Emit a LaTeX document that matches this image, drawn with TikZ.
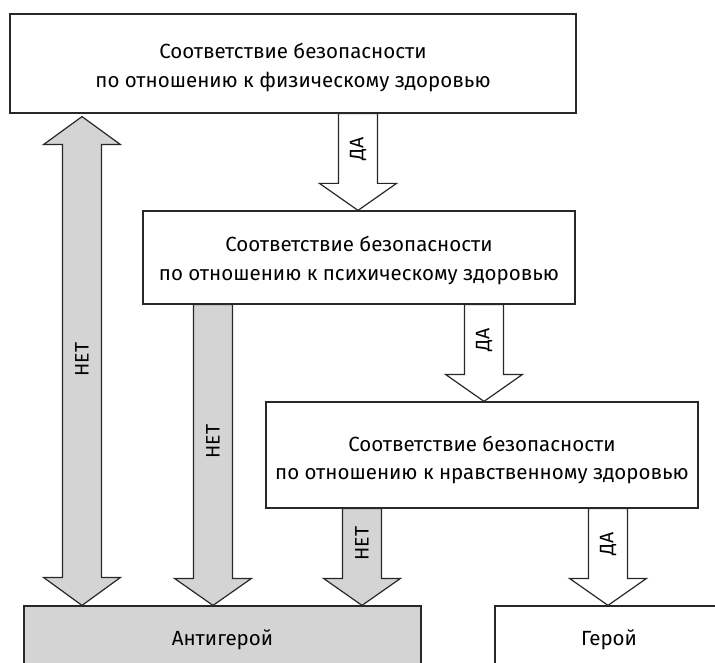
\documentclass[tikz,border=0pt]{standalone}
\usepackage{fontspec}
\setmainfont{Fira Sans}
\usetikzlibrary{calc}
\definecolor{arrgray}{RGB}{212,212,212}
\definecolor{edge}{RGB}{40,40,40}
\newcommand\downblock[4]{%
  \path[#1] let \p1=(#2), \p2=(#3) in
    (\x1-19.5pt,\y1) -- (\x1+19.5pt,\y1) -- (\x1+19.5pt,\y2+27pt) -- (\x1+38.5pt,\y2+27pt)
    -- (\x1,\y2) -- (\x1-38.5pt,\y2+27pt) -- (\x1-19.5pt,\y2+27pt) -- cycle
    (\x1,{0.5*\y1+0.5*\y2+13.5pt}) node[lbl] {#4};
}
\begin{document}
\begin{tikzpicture}[x=1pt,y=-1pt,
  box/.style={draw=edge, line width=1.2pt, fill=white, inner sep=0pt},
  txt/.style={inner sep=0pt, align=center, font=\fontsize{20.5}{28.5}\selectfont},
  yesarrow/.style={draw=edge, line width=1.2pt, fill=white, line join=miter},
  noarrow/.style={draw=edge, line width=1.2pt, fill=arrgray, line join=miter},
  lbl/.style={rotate=90, inner sep=0pt, font=\fontsize{19.5}{20}\selectfont}]
\useasboundingbox (0,0) rectangle (715,663);
\fill[white] (0,0) rectangle (715,663);

\coordinate (c1) at (82,0);
\coordinate (c2) at (213,0);
\coordinate (c3) at (362,0);
\coordinate (d1) at (358,0);
\coordinate (d2) at (484,0);
\coordinate (d3) at (608,0);

\node[box, minimum width=566pt, minimum height=99pt] (b1) at (293,63.5) {};
\node[txt] (t1) at ([yshift=-4pt]b1.center)
  {Соответствие безопасности\\по отношению к физическому здоровью};
\node[box, minimum width=432pt, minimum height=93pt] (b2) at (359,257.5) {};
\node[txt] (t2) at ([yshift=-3pt]b2.center)
  {Соответствие безопасности\\по отношению к психическому здоровью};
\node[box, minimum width=432pt, minimum height=106pt] (b3) at (482,455) {};
\node[txt] (t3) at ([yshift=-5pt]b3.center)
  {Соответствие безопасности\\по отношению к нравственному здоровью};
\node[box, fill=arrgray, minimum width=397pt, minimum height=68pt] (anti) at (222.5,640) {};
\node[txt] (ta) at (anti.center) {Антигерой};
\node[box, minimum width=228pt, minimum height=68pt] (hero) at (609,640) {};
\node[txt] (th) at (hero.center) {Герой};

% double arrow NET
\path[noarrow] let \p1=(c1 |- b1.south), \p2=(c1 |- anti.north) in
  (\x1,\y1-3pt) -- (\x1+38.5pt,\y1-31pt) -- (\x1+19.5pt,\y1-31pt) -- (\x1+19.5pt,\y2+28pt)
  -- (\x1+38.5pt,\y2+28pt) -- (\x1,\y2) -- (\x1-38.5pt,\y2+28pt) -- (\x1-19.5pt,\y2+28pt)
  -- (\x1-19.5pt,\y1-31pt) -- (\x1-38.5pt,\y1-31pt) -- cycle
  (\x1,{0.5*\y1+0.5*\y2}) node[lbl] {НЕТ};

\downblock{noarrow}{c2 |- b2.south}{c2 |- anti.north}{НЕТ}
\downblock{noarrow}{c3 |- b3.south}{c3 |- anti.north}{НЕТ}
\downblock{yesarrow}{d1 |- b1.south}{d1 |- b2.north}{ДА}
\downblock{yesarrow}{d2 |- b2.south}{d2 |- b3.north}{ДА}
\downblock{yesarrow}{d3 |- b3.south}{d3 |- hero.north}{ДА}
\end{tikzpicture}
\end{document}
